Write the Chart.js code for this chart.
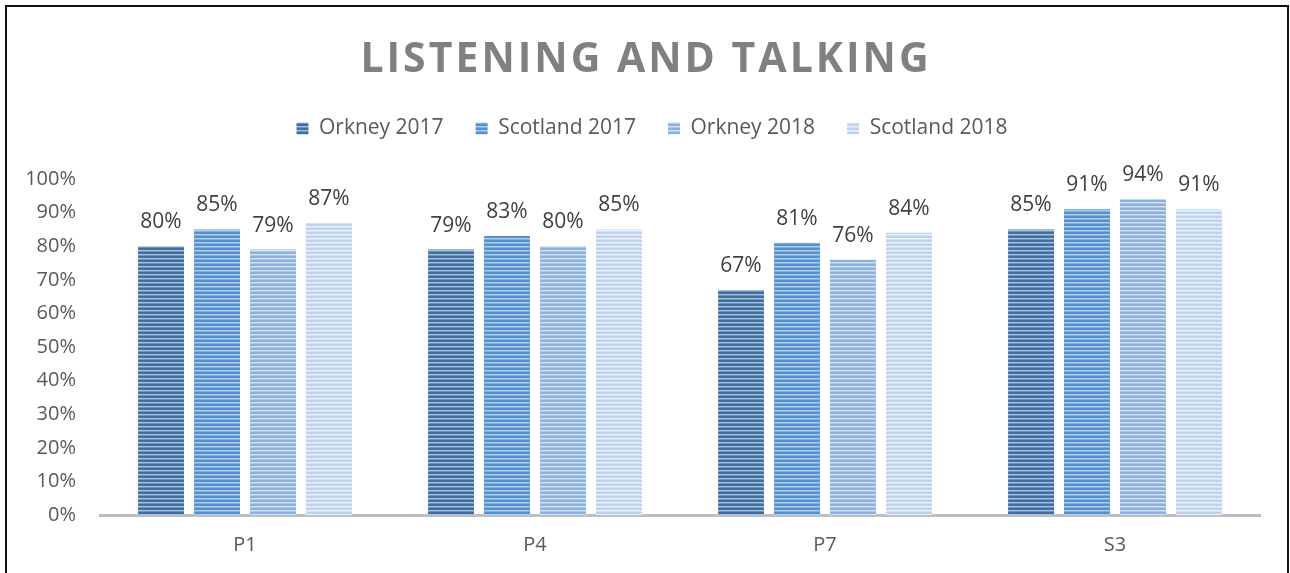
<!DOCTYPE html>
<html lang="en">
<head>
  <meta charset="UTF-8" />
  <script src="https://cdn.jsdelivr.net/npm/chart.js"></script>
  <title>Listening and Talking</title>
  <style>
    body { margin: 0; background: #fff; }
    #marco { position: absolute; left: 5px; top: 5px; width: 1284px; height: 620px; border: 2px solid #111; box-sizing: border-box; }
    #grafico { position: absolute; left: 0; top: 0; }
  </style>
</head>
<body>
  <div id="marco"></div>
  <canvas id="grafico" width="1290" height="573"></canvas>
  <script>
    const categorias = ['P1', 'P4', 'P7', 'S3'];
    const series = ['Orkney 2017', 'Scotland 2017', 'Orkney 2018', 'Scotland 2018'];
    const orkney2017 = [80, 79, 67, 85];
    const scotland2017 = [85, 83, 81, 91];
    const orkney2018 = [79, 80, 76, 94];
    const scotland2018 = [87, 85, 84, 91];
    const valores = [orkney2017, scotland2017, orkney2018, scotland2018];

    // colores de rayas: [oscuro, claro, medio]
    const colores = [
      ['#3f6f9f', '#a9c2dd', '#6d93bd'],
      ['#5290cf', '#b3cfec', '#82aede'],
      ['#8ab1e0', '#d2e1f4', '#abc8ea'],
      ['#bcd2ee', '#eaf1fa', '#d3e2f4']
    ];

    function rayas(c) {
      const cv = document.createElement('canvas');
      cv.width = 4; cv.height = 4;
      const g = cv.getContext('2d');
      g.fillStyle = c[0]; g.fillRect(0, 0, 4, 2);
      g.fillStyle = c[1]; g.fillRect(0, 2, 4, 1);
      g.fillStyle = c[2]; g.fillRect(0, 3, 4, 1);
      return g.createPattern(cv, 'repeat');
    }

    const fuente = '"Open Sans", "DejaVu Sans", sans-serif';

    // titulo con espaciado entre letras
    const titulo = {
      id: 'titulo',
      afterDraw(chart) {
        const ctx = chart.ctx;
        ctx.save();
        ctx.font = 'bold 41px ' + fuente;
        ctx.fillStyle = '#808080';
        ctx.textAlign = 'center';
        ctx.textBaseline = 'alphabetic';
        if ('letterSpacing' in ctx) ctx.letterSpacing = '3px';
        ctx.fillText('LISTENING AND TALKING', 646, 72);
        ctx.restore();
      }
    };

    // leyenda: mas espacio debajo y centrada como en el original
    const ajusteLeyenda = {
      id: 'ajusteLeyenda',
      beforeInit(chart) {
        const fit = chart.legend.fit;
        chart.legend.fit = function () {
          fit.call(this);
          this.height += 30;
        };
      },
      afterLayout(chart) {
        chart.legend.left += 22;
        chart.legend.right += 22;
      }
    };

    // etiquetas de valores encima de las barras
    const etiquetas = {
      id: 'etiquetas',
      afterDatasetsDraw(chart) {
        const ctx = chart.ctx;
        ctx.save();
        ctx.font = '21px ' + fuente;
        ctx.fillStyle = '#404040';
        ctx.textAlign = 'center';
        ctx.textBaseline = 'alphabetic';
        chart.data.datasets.forEach((ds, i) => {
          chart.getDatasetMeta(i).data.forEach((bar, j) => {
            ctx.fillText(ds.data[j] + '%', bar.x, bar.y - 18);
          });
        });
        ctx.restore();
      }
    };

    const ctx = document.getElementById('grafico').getContext('2d');
    new Chart(ctx, {
      type: 'bar',
      data: {
        labels: categorias,
        datasets: series.map((nombre, i) => ({
          label: nombre,
          data: valores[i],
          backgroundColor: rayas(colores[i]),
          borderWidth: 0,
          categoryPercentage: 0.772,
          barPercentage: 0.821
        }))
      },
      options: {
        responsive: false,
        animation: false,
        layout: { padding: { top: 86, left: 0, right: 30, bottom: 0 } },
        plugins: {
          title: { display: false },
          tooltip: { enabled: false },
          legend: {
            position: 'top',
            labels: {
              boxWidth: 12,
              boxHeight: 12,
              padding: 32,
              color: '#595959',
              font: { family: fuente, size: 21 }
            }
          }
        },
        scales: {
          y: {
            min: 0,
            max: 100,
            ticks: {
              stepSize: 10,
              padding: 24,
              color: '#595959',
              font: { family: fuente, size: 20 },
              callback: v => v + '%'
            },
            grid: { display: false, drawTicks: false },
            border: { display: false },
            afterFit: s => { s.width = 100; }
          },
          x: {
            ticks: {
              padding: 18,
              color: '#595959',
              font: { family: fuente, size: 20 }
            },
            grid: { display: false, drawTicks: false },
            border: { display: true, color: '#bfbfbf', width: 3 },
            afterFit: s => { s.height = 58; }
          }
        }
      },
      plugins: [titulo, ajusteLeyenda, etiquetas]
    });
  </script>
</body>
</html>
